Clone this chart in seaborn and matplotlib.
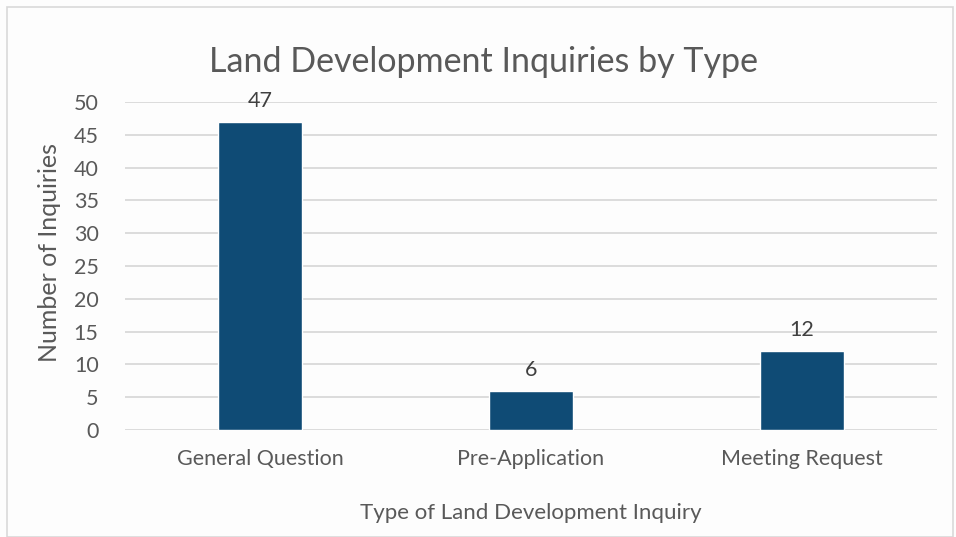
import matplotlib
matplotlib.use("Agg")
import matplotlib.pyplot as plt
import seaborn as sns
import pandas as pd
from matplotlib.patches import Rectangle

categorias = ["General Question", "Pre-Application", "Meeting Request"]
consultas = [47, 6, 12]

df = pd.DataFrame({"Tipo": categorias, "Consultas": consultas})

sns.set_theme(style="white")
plt.rcParams["font.family"] = ["Lato", "DejaVu Sans"]
cor_texto = "#595959"

fig = plt.figure(figsize=(9.56, 5.37), dpi=100, facecolor="#fdfdfd")
fig.patches.append(Rectangle((0.007, 0.0), 0.99, 0.987, transform=fig.transFigure,
                             fill=False, edgecolor="#d9d9d9", linewidth=1.2))
ax = fig.add_axes([0.1308, 0.1993, 0.8492, 0.6107])
ax.set_facecolor("#fdfdfd")

sns.barplot(data=df, x="Tipo", y="Consultas", color="#0f4b75", width=0.31,
            saturation=1, ax=ax, zorder=3)
for c in ax.containers:
    ax.bar_label(c, padding=8, fontsize=15.5, color="#404040")

ax.set_ylim(0, 50)
ax.set_xlim(-0.5, 2.5)
ax.set_yticks(range(0, 51, 5))
ax.yaxis.grid(True, color="#d9d9d9", linewidth=1.3, zorder=0)
ax.set_axisbelow(True)
for s in ax.spines.values():
    s.set_visible(False)
ax.tick_params(axis="both", colors=cor_texto, labelsize=15.5, length=0)
ax.tick_params(axis="x", pad=14)
ax.tick_params(axis="y", pad=19)

ax.set_xlabel("Type of Land Development Inquiry", fontsize=16, color=cor_texto, labelpad=24)
ax.set_ylabel("Number of Inquiries", fontsize=18, color=cor_texto)
ax.yaxis.set_label_coords(-0.079, 0.54)
fig.text(0.506, 0.885, "Land Development Inquiries by Type", ha="center", va="center",
         fontsize=24.5, color=cor_texto)

fig.savefig("out.png", dpi=100, facecolor=fig.get_facecolor())
